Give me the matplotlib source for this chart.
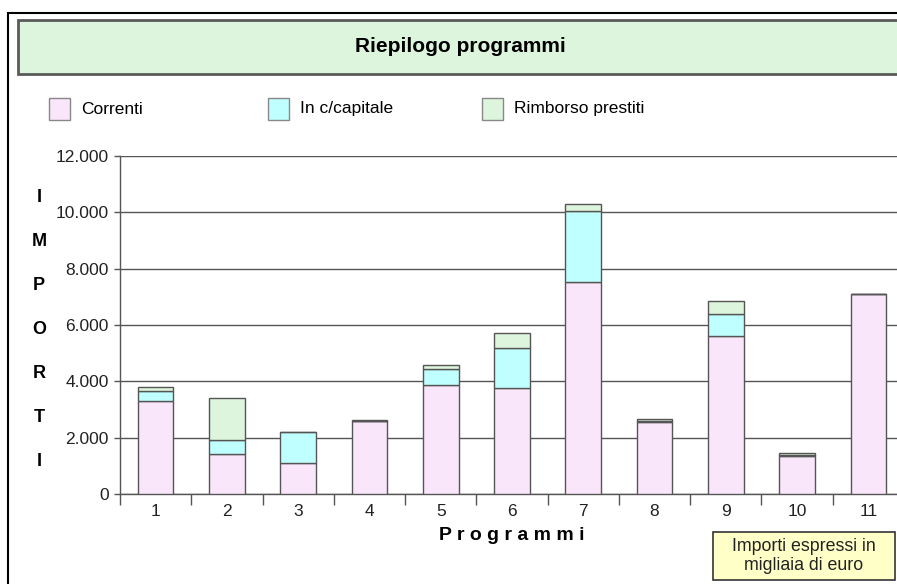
import matplotlib
matplotlib.use('Agg')
import matplotlib.pyplot as plt
from matplotlib.patches import Rectangle
from matplotlib.ticker import FuncFormatter, FixedLocator

plt.rcParams['font.family'] = ['Liberation Sans', 'DejaVu Sans']

# Dati (migliaia di euro)
programmi = ['1', '2', '3', '4', '5', '6', '7', '8', '9', '10', '11']
correnti = [3300, 1410, 1090, 2575, 3870, 3750, 7515, 2540, 5600, 1350, 7090]
capitale = [340, 500, 1120, 25, 560, 1420, 2530, 60, 780, 50, 0]
rimborso = [160, 1490, 0, 30, 150, 530, 240, 50, 460, 45, 0]
serie = ['Correnti', 'In c/capitale', 'Rimborso prestiti']

colori = ['#fae6fa', '#c0ffff', '#dcf5dc']
bordo = '#555555'

W, H = 897, 584
fig = plt.figure(figsize=(W / 100, H / 100), dpi=100)


def fx(px):
    return px / W


def fy(py):
    return 1 - py / H


# Cornice esterna e box titolo
fig.patches.append(Rectangle((fx(8), fy(600)), fx(900), fy(13) - fy(600),
                             transform=fig.transFigure, fill=False,
                             edgecolor='black', linewidth=1.5))
fig.patches.append(Rectangle((fx(18), fy(74)), fx(900), fy(20) - fy(74),
                             transform=fig.transFigure, facecolor='#dcf5dc',
                             edgecolor='#5a5a5a', linewidth=2))
fig.text(fx(460), fy(47), 'Riepilogo programmi', ha='center', va='center',
         fontsize=15, fontweight='bold')

# Legenda manuale
leg_x = [49, 268, 482]
for x0, col, nome in zip(leg_x, colori, serie):
    fig.patches.append(Rectangle((fx(x0), fy(120)), fx(21), fy(98) - fy(120),
                                 transform=fig.transFigure, facecolor=col,
                                 edgecolor='#888888', linewidth=1))
    fig.text(fx(x0 + 32), fy(109), nome, ha='left', va='center', fontsize=12.5)

# Assi
ax = fig.add_axes([fx(120), fy(494), fx(784), fy(156) - fy(494)])
x = range(len(programmi))
base2 = [a + b for a, b in zip(correnti, capitale)]
ax.bar(x, correnti, width=0.5, color=colori[0], edgecolor=bordo, linewidth=1, zorder=3)
ax.bar(x, capitale, width=0.5, bottom=correnti, color=colori[1], edgecolor=bordo, linewidth=1, zorder=3)
ax.bar(x, rimborso, width=0.5, bottom=base2, color=colori[2], edgecolor=bordo, linewidth=1, zorder=3)

ax.set_xlim(-0.5, len(programmi) - 0.5)
ax.set_ylim(0, 12000)
ax.set_yticks(range(0, 12001, 2000))
ax.yaxis.set_major_formatter(FuncFormatter(lambda v, p: f'{v:,.0f}'.replace(',', '.')))
ax.yaxis.grid(True, color=bordo, linewidth=1, zorder=0)
ax.set_axisbelow(True)

ax.set_xticks(list(x))
ax.set_xticklabels(programmi)
ax.xaxis.set_minor_locator(FixedLocator([i - 0.5 for i in range(len(programmi) + 1)]))
ax.tick_params(axis='x', which='major', length=0, pad=7, labelsize=12.5,
               labelcolor='#222222')
ax.tick_params(axis='x', which='minor', length=8, color=bordo, width=1, direction='out')
ax.tick_params(axis='y', length=4.5, color=bordo, width=1, pad=3.5, labelsize=12.5,
               labelcolor='#222222')

for s in ['top', 'right']:
    ax.spines[s].set_visible(False)
for s in ['left', 'bottom']:
    ax.spines[s].set_color(bordo)
    ax.spines[s].set_linewidth(1)

# Etichette assi
for lettera, yp in zip('IMPORTI', [198, 242, 285, 330, 373, 417, 462]):
    fig.text(fx(39), fy(yp), lettera, ha='center', va='center', fontsize=13,
             fontweight='bold')
fig.text(fx(512), fy(535), 'P r o g r a m m i', ha='center', va='center',
         fontsize=14, fontweight='bold')

# Nota
fig.patches.append(Rectangle((fx(713), fy(580)), fx(182), fy(532) - fy(580),
                             transform=fig.transFigure, facecolor='#ffffc8',
                             edgecolor='#333333', linewidth=1.2))
fig.text(fx(804), fy(556), 'Importi espressi in\nmigliaia di euro', ha='center',
         va='center', fontsize=12.8, linespacing=1.1, color='#222222')

fig.savefig('out.png', dpi=100)
